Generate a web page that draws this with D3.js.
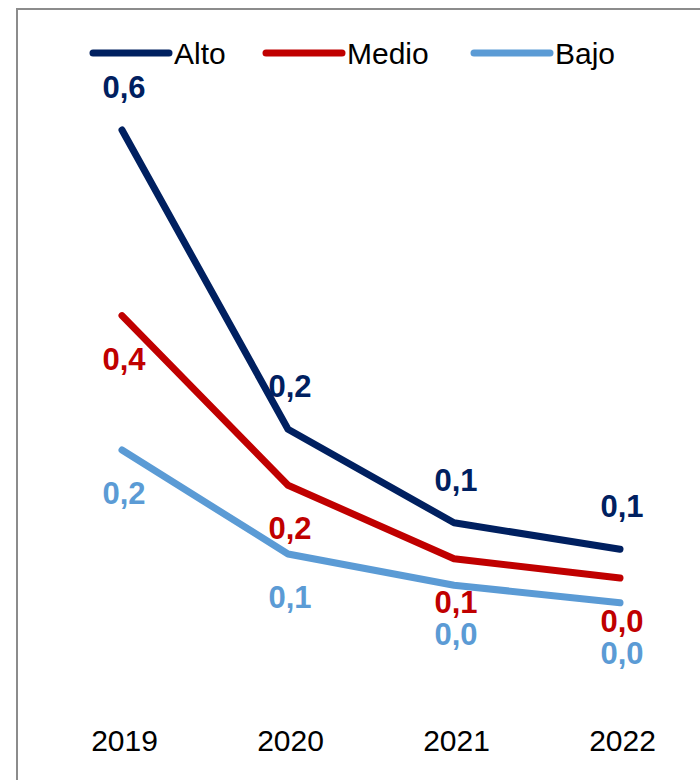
<!DOCTYPE html>
<html>
<head>
<meta charset="utf-8">
<script src="https://cdn.jsdelivr.net/npm/d3@7"></script>
<style>
  html, body { margin: 0; padding: 0; background: #fff; }
  svg { display: block; }
  text { font-family: "Liberation Sans", Arial, sans-serif; }
</style>
</head>
<body>
<svg id="chart" width="700" height="780"></svg>
<script>
// ---- data ----
const years = ["2019", "2020", "2021", "2022"];
const seriesNames = ["Alto", "Medio", "Bajo"];
const alto  = [0.600, 0.226, 0.109, 0.076];
const medio = [0.368, 0.156, 0.064, 0.040];
const bajo  = [0.200, 0.070, 0.031, 0.009];
const seriesColors = ["#002060", "#C00000", "#5B9BD5"];

const series = [
  { name: seriesNames[0], values: alto,  color: seriesColors[0], side: -1 },
  { name: seriesNames[1], values: medio, color: seriesColors[1], side: 1 },
  { name: seriesNames[2], values: bajo,  color: seriesColors[2], side: 1 }
];

const svg = d3.select("#chart");

// frame (cropped on right/bottom like the reference)
svg.append("rect")
  .attr("x", 17).attr("y", 9)
  .attr("width", 720).attr("height", 800)
  .attr("fill", "none").attr("stroke", "#8c8c8c").attr("stroke-width", 2);

const x = d3.scalePoint().domain(years).range([122, 620]);
const y = d3.scaleLinear().domain([0, 0.7]).range([610, 50]);

// x axis labels (no axis line / ticks)
const xAxis = d3.axisBottom(x).tickSize(0).tickPadding(0);
const gx = svg.append("g").attr("transform", "translate(2,730)").call(xAxis);
gx.select(".domain").remove();
gx.selectAll("text")
  .attr("font-size", 30)
  .attr("fill", "#000")
  .attr("dy", "0.71em")
  .style("font-family", "'Liberation Sans', Arial, sans-serif");

// lines
const line = d3.line()
  .x((d, i) => x(years[i]))
  .y(d => y(d));

svg.append("g").selectAll("path")
  .data(series.slice().reverse())
  .join("path")
  .attr("d", s => line(s.values))
  .attr("fill", "none")
  .attr("stroke", s => s.color)
  .attr("stroke-width", 7)
  .attr("stroke-linecap", "round")
  .attr("stroke-linejoin", "round");

// data labels
const fmt = v => d3.format(".1f")(v).replace(".", ",");
const labelPos = {};
series.forEach(s => {
  labelPos[s.name] = s.values.map((v, i) => y(v) + s.side * 43);
});
// push lower (Bajo) labels below Medio labels when they collide
labelPos["Bajo"] = labelPos["Bajo"].map((c, i) => Math.max(c, labelPos["Medio"][i] + 32));

const lg = svg.append("g");
series.forEach(s => {
  lg.selectAll(null)
    .data(s.values)
    .join("text")
    .attr("x", (d, i) => x(years[i]) + 2)
    .attr("y", (d, i) => labelPos[s.name][i])
    .attr("dy", "0.36em")
    .attr("text-anchor", "middle")
    .attr("font-size", 31)
    .attr("font-weight", "bold")
    .attr("fill", s.color)
    .text(d => fmt(d));
});

// legend
const legendX = [93, 266, 474];
const leg = svg.append("g").attr("transform", "translate(0,53)");
series.forEach((s, i) => {
  const g = leg.append("g").attr("transform", `translate(${legendX[i]},0)`);
  g.append("line")
    .attr("x1", 0).attr("x2", 76)
    .attr("stroke", s.color).attr("stroke-width", 7)
    .attr("stroke-linecap", "round");
  g.append("text")
    .attr("x", 81).attr("y", 11)
    .attr("font-size", 30)
    .attr("fill", "#000")
    .text(s.name);
});
</script>
</body>
</html>
